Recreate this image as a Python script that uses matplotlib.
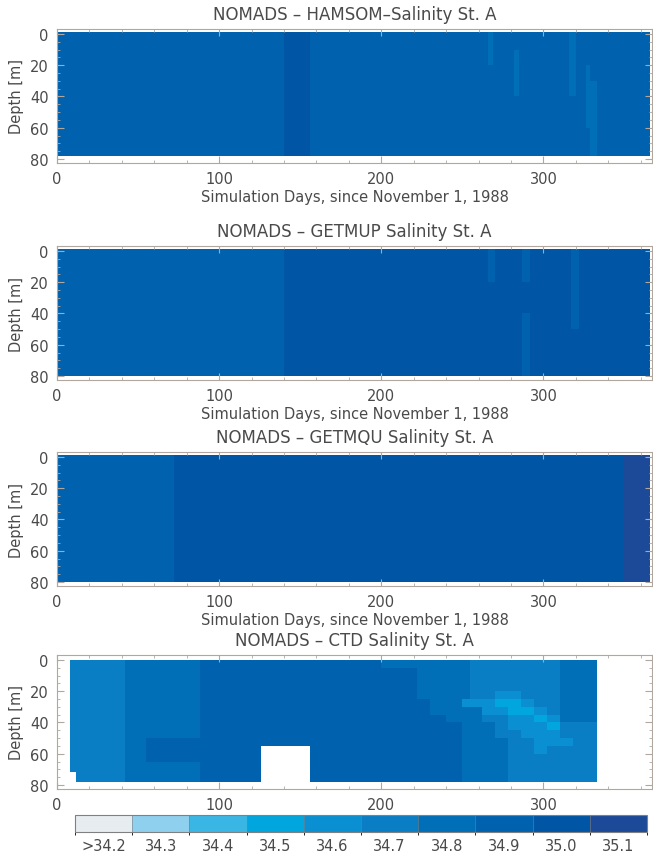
import numpy as np
import matplotlib
matplotlib.use('Agg')
import matplotlib.pyplot as plt
from matplotlib.colors import ListedColormap, BoundaryNorm
from matplotlib.cm import ScalarMappable
from matplotlib.ticker import MultipleLocator

# salinity classes of the colour bar
sal_bounds = [34.2, 34.3, 34.4, 34.5, 34.6, 34.7, 34.8, 34.9, 35.0, 35.1, 35.2]
sal_labels = ['>34.2', '34.3', '34.4', '34.5', '34.6', '34.7', '34.8', '34.9', '35.0', '35.1']
sal_colors = ['#e6ecf0', '#8fd0ef', '#3ab6e4', '#00a6dd', '#0a90d2',
              '#0a7ec4', '#006fb8', '#0062ae', '#0056a4', '#1d4a98']

titles = ['NOMADS \u2013 HAMSOM\u2013Salinity St. A',
          'NOMADS \u2013 GETMUP Salinity St. A',
          'NOMADS \u2013 GETMQU Salinity St. A',
          'NOMADS \u2013 CTD Salinity St. A']

# fields: each character is the index of the salinity class, '.' = no data
hamsom_days = [0, 140, 156, 266, 269, 282, 285, 316, 320, 326, 329, 333, 366]
hamsom_depths = [-1, 10, 20, 30, 40, 50, 60, 70, 78]
hamsom_rows = ['787677767777',
               '787676767777',
               '787776767677',
               '787776767667',
               '787777777667',
               '787777777667',
               '787777777767',
               '787777777767']

getmup_days = [0, 140, 266, 270, 287, 292, 317, 322, 366]
getmup_depths = [-1, 10, 20, 30, 40, 50, 60, 70, 80]
getmup_rows = ['78787878',
               '78787878',
               '78888878',
               '78888878',
               '78887878',
               '78887888',
               '78887888',
               '78887888']

getmqu_days = [0, 72, 350, 366]
getmqu_depths = [-1, 80]
getmqu_rows = ['789']

ctd_days = [8, 12, 42, 55, 88, 126, 156, 200, 215, 222, 230, 240, 250, 255,
            262, 270, 278, 286, 294, 302, 310, 318, 333]
ctd_depths = [0, 5, 10, 15, 20, 25, 30, 35, 40, 45, 50, 55, 60, 65, 72, 78]
ctd_rows = ['5566777666666555555566',
            '5566777776666555555566',
            '5566777776666555555566',
            '5566777776666555555566',
            '5566777776666554455566',
            '5566777777664443345566',
            '5566777777666644334566',
            '5566777777766655443466',
            '5566777777776665444355',
            '5566777777776665544455',
            '5567777777776666554445',
            '55677.7777776666554555',
            '55677.7777776666555555',
            '55667.7777776666555555',
            '.5667.7777776666555555']

fields = [(hamsom_days, hamsom_depths, hamsom_rows),
          (getmup_days, getmup_depths, getmup_rows),
          (getmqu_days, getmqu_depths, getmqu_rows),
          (ctd_days, ctd_depths, ctd_rows)]


def to_field(rows):
    return np.array([[np.nan if c == '.' else sal_bounds[int(c)] + 0.05 for c in r]
                     for r in rows])


def main():
    txt = '#4a4a4a'
    edge = '#b0a8a0'
    plt.rcParams['font.family'] = 'DejaVu Sans'
    cmap = ListedColormap(sal_colors)
    norm = BoundaryNorm(sal_bounds, cmap.N)

    fig = plt.figure(figsize=(6.53, 8.53), dpi=100)
    W, H = 653.0, 853.0
    tops = [30, 247, 453, 656]
    for i, (days, depths, rows) in enumerate(fields):
        ax = fig.add_axes([57 / W, 1 - (tops[i] + 134) / H, 595 / W, 134 / H])
        ax.pcolormesh(days, depths, to_field(rows), cmap=cmap, norm=norm,
                      shading='flat')
        ax.set_xlim(0, 367)
        ax.set_ylim(82.6, -3.2)
        ax.set_xticks([0, 100, 200, 300])
        ax.set_yticks([0, 20, 40, 60, 80])
        ax.xaxis.set_minor_locator(MultipleLocator(20))
        ax.yaxis.set_minor_locator(MultipleLocator(5))
        ax.tick_params(which='both', direction='in', top=True, right=True,
                       color=edge, labelcolor=txt, labelsize=10.5)
        ax.tick_params(which='major', length=5, pad=6)
        ax.tick_params(which='minor', length=2.5)
        for s in ax.spines.values():
            s.set_color(edge)
            s.set_linewidth(0.8)
        ax.set_title(titles[i], fontsize=12, color=txt, pad=7)
        ax.set_ylabel('Depth [m]', fontsize=10.5, color=txt, labelpad=4)
        if i < 3:
            ax.set_xlabel('Simulation Days, since November 1, 1988',
                          fontsize=10.5, color=txt, labelpad=2)

    cax = fig.add_axes([75 / W, 1 - 833 / H, 572 / W, 17 / H])
    centers = [(a + b) / 2 for a, b in zip(sal_bounds[:-1], sal_bounds[1:])]
    cb = fig.colorbar(ScalarMappable(norm=norm, cmap=cmap), cax=cax,
                      orientation='horizontal', ticks=centers, drawedges=True)
    cb.set_ticklabels(sal_labels)
    cb.outline.set_edgecolor('#808080')
    cb.dividers.set_color('#808080')
    cax.tick_params(length=0, labelsize=10.5, labelcolor=txt, pad=4)

    fig.savefig('out.png', dpi=100)


if __name__ == '__main__':
    main()
